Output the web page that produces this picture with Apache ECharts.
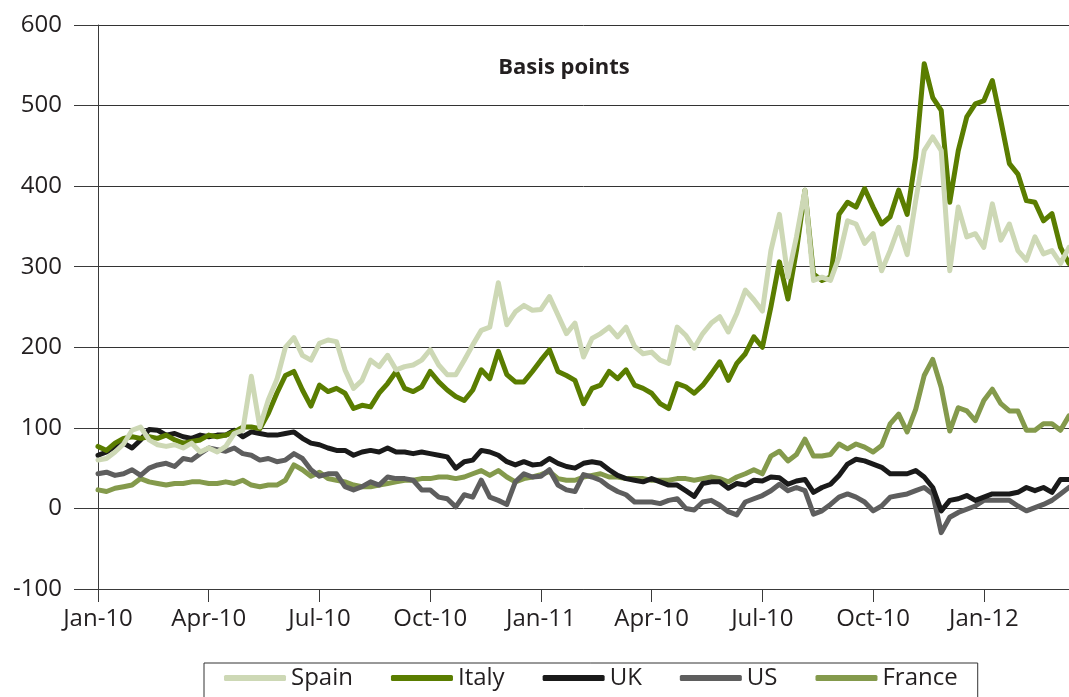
<!DOCTYPE html>
<html>
<head>
<meta charset="utf-8">
<script src="https://cdn.jsdelivr.net/npm/echarts@6/dist/echarts.min.js"></script>
<style>
  html, body { margin: 0; padding: 0; background: #ffffff; }
  #chart { width: 1069px; height: 697px; }
</style>
</head>
<body>
<div id="chart"></div>
<script>
// Weekly readings, Jan 2010 to mid-March 2012 (basis points)
const tickLabels = ['Jan-10','Apr-10','Jul-10','Oct-10','Jan-11','Apr-10','Jul-10','Oct-10','Jan-12'];
const weeksPerTick = 13;

const spain = [60,62,70,80,97,101,85,79,77,79,75,81,70,75,70,77,93,97,164,101,135,160,200,212,190,184,205,
  209,207,172,149,159,184,176,190,172,176,178,184,197,178,166,166,184,203,221,225,280,228,244,252,246,247,263,
  240,217,230,188,211,217,225,213,225,201,192,194,184,180,225,215,199,217,230,238,219,242,271,259,245,320,365,
  287,337,395,283,287,283,312,357,353,329,341,295,320,349,315,382,444,461,444,295,374,337,341,324,378,333,353,320,308,337,316,320,304,324];

const italy = [77,72,81,87,89,87,89,87,91,85,81,83,85,91,89,91,95,101,101,99,118,143,165,170,147,127,153,
  145,149,143,124,128,126,143,155,170,149,145,151,170,157,147,139,134,147,172,161,195,166,157,157,170,184,197,
  170,165,159,130,149,153,170,161,172,153,149,143,130,124,155,151,143,153,167,182,159,180,192,213,200,250,306,
  260,320,395,291,283,287,365,380,374,397,374,353,362,395,365,436,552,510,494,380,444,486,502,506,531,481,428,415,382,380,357,366,324,304];

const uk = [66,70,77,81,75,85,98,97,91,93,89,87,91,89,91,91,97,89,95,93,91,91,93,95,87,81,79,
  75,72,72,66,70,72,70,75,70,70,68,70,68,66,64,50,58,60,72,70,66,58,54,58,54,55,62,
  56,52,50,56,58,56,48,41,37,35,33,37,33,29,29,22,15,31,33,33,25,31,29,35,34,39,38,
  30,34,36,20,26,30,41,55,61,59,55,51,43,43,43,47,39,26,-3,10,12,16,10,14,18,18,18,20,26,22,26,20,36,36];

const us = [43,45,41,43,48,41,50,54,56,52,62,60,68,75,73,71,75,68,66,60,62,58,60,68,62,48,40,
  43,43,27,23,27,33,29,39,37,37,35,23,23,14,12,2,17,14,35,14,10,5,33,43,39,40,48,
  29,23,21,42,39,35,27,21,17,8,8,8,6,10,12,0,-2,8,10,4,-4,-8,8,12,16,22,30,
  22,26,22,-7,-3,5,14,18,14,8,-3,3,14,16,18,22,26,18,-30,-11,-5,-1,3,10,10,10,10,3,-3,1,5,10,18,26];

const france = [23,21,25,27,29,37,33,31,29,31,31,33,33,31,31,33,31,35,29,27,29,29,35,54,48,40,45,
  37,35,33,29,27,27,29,31,33,35,35,37,37,39,39,37,39,43,47,41,47,39,33,37,39,42,46,
  37,35,35,39,41,43,39,39,37,37,37,35,35,35,37,37,35,37,39,37,33,39,43,48,43,65,71,
  59,67,86,65,65,67,80,74,80,76,70,78,105,117,95,123,165,185,150,96,125,121,109,134,148,130,121,121,97,97,105,105,97,115];

const weeks = spain.map((_, i) => 'W' + i);

const FONT = '"Open Sans", "Noto Sans", sans-serif';
const TEXT = '#231f20';
const AXIS = '#3a3a3a';

const chart = echarts.init(document.getElementById('chart'), null, { renderer: 'canvas' });

function mk(name, data, color) {
  return {
    name: name, type: 'line', data: data,
    symbol: 'none', showSymbol: false, smooth: false,
    lineStyle: { width: 5, color: color, cap: 'round', join: 'round' },
    itemStyle: { color: color },
    emphasis: { disabled: true },
    animation: false
  };
}

const tickFilter = (idx) => idx % weeksPerTick === 0;

chart.setOption({
  animation: false,
  backgroundColor: '#ffffff',
  textStyle: { fontFamily: FONT },
  grid: { left: 98, right: 0, top: 25, bottom: 108, containLabel: false },
  graphic: [{
    type: 'text', x: 564, y: 68,
    style: { text: 'Basis points', font: 'bold 22px ' + FONT, fill: TEXT, textAlign: 'center', textVerticalAlign: 'middle' }
  }],
  legend: {
    data: ['Spain', 'Italy', 'UK', 'US', 'France'],
    left: 204, top: 663,
    itemWidth: 62, itemHeight: 6, itemGap: 38,
    icon: 'roundRect',
    borderColor: '#333', borderWidth: 1,
    padding: [3, 20, 30, 20],
    textStyle: { fontSize: 24, color: TEXT, fontFamily: FONT },
    selectedMode: false
  },
  xAxis: {
    type: 'category', data: weeks, boundaryGap: false,
    axisLine: { onZero: false, lineStyle: { color: AXIS, width: 1 } },
    axisTick: { show: true, length: 13, interval: tickFilter, lineStyle: { color: AXIS } },
    axisLabel: {
      interval: tickFilter, margin: 18, fontSize: 24, color: TEXT, fontFamily: FONT,
      formatter: (val, idx) => tickLabels[idx / weeksPerTick] || ''
    },
    splitLine: { show: false }
  },
  yAxis: {
    type: 'value', min: -100, max: 600, interval: 100,
    axisLine: { show: true, lineStyle: { color: AXIS, width: 1 } },
    axisTick: { show: true, length: 24, lineStyle: { color: AXIS } },
    axisLabel: { margin: 36, fontSize: 24, color: TEXT, fontFamily: FONT },
    splitLine: { show: true, lineStyle: { color: '#333', width: 1 } }
  },
  series: [
    mk('France', france, '#849a4c'),
    mk('US', us, '#5e5e5e'),
    mk('UK', uk, '#1a1a1a'),
    mk('Italy', italy, '#5a7d00'),
    mk('Spain', spain, '#cdd8b5')
  ]
});
</script>
</body>
</html>
